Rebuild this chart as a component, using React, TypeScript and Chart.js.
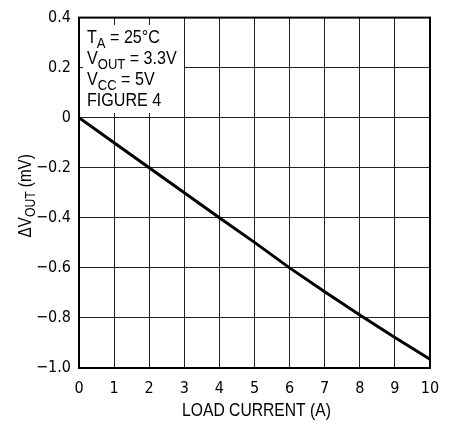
import React, { useEffect, useRef } from "react";
import { Chart, registerables } from "chart.js";

Chart.register(...registerables);

const loadCurrent = [0, 1, 2, 3, 4, 5, 6, 7, 8, 9, 10];
const deltaVout = [0, -0.1, -0.2, -0.3, -0.4, -0.498, -0.6, -0.695, -0.788, -0.878, -0.965];
const xTicks = [0, 1, 2, 3, 4, 5, 6, 7, 8, 9, 10];
const yTicks = [0.4, 0.2, 0, -0.2, -0.4, -0.6, -0.8, -1.0];
const yTickLabels = ["0.4", "0.2", "0", "\u22120.2", "\u22120.4", "\u22120.6", "\u22120.8", "\u22121.0"];
const xTitle = "LOAD CURRENT (A)";
const yTitleParts: [string, boolean][] = [["\u0394V", false], ["OUT", true], [" (mV)", false]];
const noteLines: [string, boolean][][] = [
  [["T", false], ["A", true], [" = 25\u00B0C", false]],
  [["V", false], ["OUT", true], [" = 3.3V", false]],
  [["V", false], ["CC", true], [" = 5V", false]],
  [["FIGURE 4", false]],
];

const TICK_FONT = "'Liberation Sans Narrow', 'DejaVu Sans Condensed', 'Roboto Condensed', Arial, sans-serif";
const TEXT_FONT = "'Liberation Sans', Arial, sans-serif";
const SQUEEZE = 0.87;

function drawRich(ctx: CanvasRenderingContext2D, parts: [string, boolean][], x: number, y: number, size: number, measureOnly = false) {
  // draws horizontally squeezed text (condensed look); returns on-screen width
  let w = 0;
  for (const [t, sub] of parts) {
    const s = sub ? Math.round(size * 0.8) : size;
    ctx.font = `${s}px ${TEXT_FONT}`;
    const tw = ctx.measureText(t).width * SQUEEZE;
    if (!measureOnly) {
      ctx.save();
      ctx.translate(x + w, sub ? y + size * 0.25 : y);
      ctx.scale(SQUEEZE, 1);
      ctx.fillText(t, 0, 0);
      ctx.restore();
    }
    w += tw;
  }
  return w;
}

const overlayPlugin = {
  id: "overlay",
  beforeDatasetsDraw(chart: any) {
    const ctx = chart.ctx as CanvasRenderingContext2D;
    const area = chart.chartArea;
    ctx.save();
    ctx.fillStyle = "#fff";
    ctx.fillRect(area.left + 4, 25, 101, 88);
    ctx.fillStyle = "#000";
    ctx.textBaseline = "alphabetic";
    ctx.textAlign = "left";
    noteLines.forEach((line, i) => {
      drawRich(ctx, line, area.left + 8, 43 + i * 21, 18.5);
    });
    ctx.restore();
  },
  afterDraw(chart: any) {
    const ctx = chart.ctx as CanvasRenderingContext2D;
    const area = chart.chartArea;
    ctx.save();
    ctx.fillStyle = "#000";
    ctx.textBaseline = "alphabetic";
    ctx.textAlign = "left";
    const xParts: [string, boolean][] = [[xTitle, false]];
    const xw = drawRich(ctx, xParts, 0, 0, 18, true);
    drawRich(ctx, xParts, (area.left + area.right) / 2 - xw / 2 + 2, 416, 18);
    const cy = (area.top + area.bottom) / 2 + 3;
    ctx.translate(31, cy);
    ctx.rotate(-Math.PI / 2);
    const tw = drawRich(ctx, yTitleParts, 0, 0, 17.5, true);
    drawRich(ctx, yTitleParts, -tw / 2, 0, 17.5);
    ctx.restore();
    ctx.save();
    ctx.strokeStyle = "#000";
    ctx.lineWidth = 2;
    ctx.strokeRect(area.left, area.top, area.right - area.left, area.bottom - area.top);
    ctx.restore();
  },
};

export default function App() {
  const ref = useRef<HTMLCanvasElement | null>(null);
  useEffect(() => {
    document.body.style.margin = "0";
    const canvas = ref.current!;
    const chart = new Chart(canvas, {
      type: "line",
      data: {
        datasets: [
          {
            data: loadCurrent.map((x, i) => ({ x, y: deltaVout[i] })),
            borderColor: "#000",
            borderWidth: 3,
            pointRadius: 0,
            fill: false,
            tension: 0,
          },
        ],
      },
      options: {
        animation: false,
        responsive: false,
        devicePixelRatio: 1,
        layout: { padding: { left: 0, top: 16, right: 31, bottom: 0 } },
        plugins: { legend: { display: false }, tooltip: { enabled: false } },
        scales: {
          x: {
            type: "linear",
            min: 0,
            max: 10,
            afterBuildTicks: (s: any) => {
              s.ticks = xTicks.map((v) => ({ value: v }));
            },
            afterFit: (s: any) => {
              s.height = 56;
            },
            ticks: {
              color: "#000",
              font: { family: TICK_FONT, size: 16 },
              padding: 11,
              maxRotation: 0,
              callback: (v: any) => String(v),
            },
            grid: { color: "#222", lineWidth: 1, drawTicks: false },
            border: { display: false },
          },
          y: {
            type: "linear",
            min: -1,
            max: 0.4,
            afterBuildTicks: (s: any) => {
              s.ticks = yTicks.map((v) => ({ value: v }));
            },
            afterFit: (s: any) => {
              s.width = 79;
            },
            ticks: {
              color: "#000",
              font: { family: TICK_FONT, size: 16 },
              padding: 8,
              callback: (v: any) => {
                const i = yTicks.findIndex((t) => Math.abs(t - v) < 1e-6);
                return i >= 0 ? yTickLabels[i] : "";
              },
            },
            grid: { color: "#222", lineWidth: 1, drawTicks: false },
            border: { display: false },
          },
        },
      },
      plugins: [overlayPlugin],
    });
    return () => chart.destroy();
  }, []);
  return (
    <div style={{ width: 461, height: 424, background: "#fff" }}>
      <canvas ref={ref} width={461} height={424} style={{ display: "block" }} />
    </div>
  );
}
